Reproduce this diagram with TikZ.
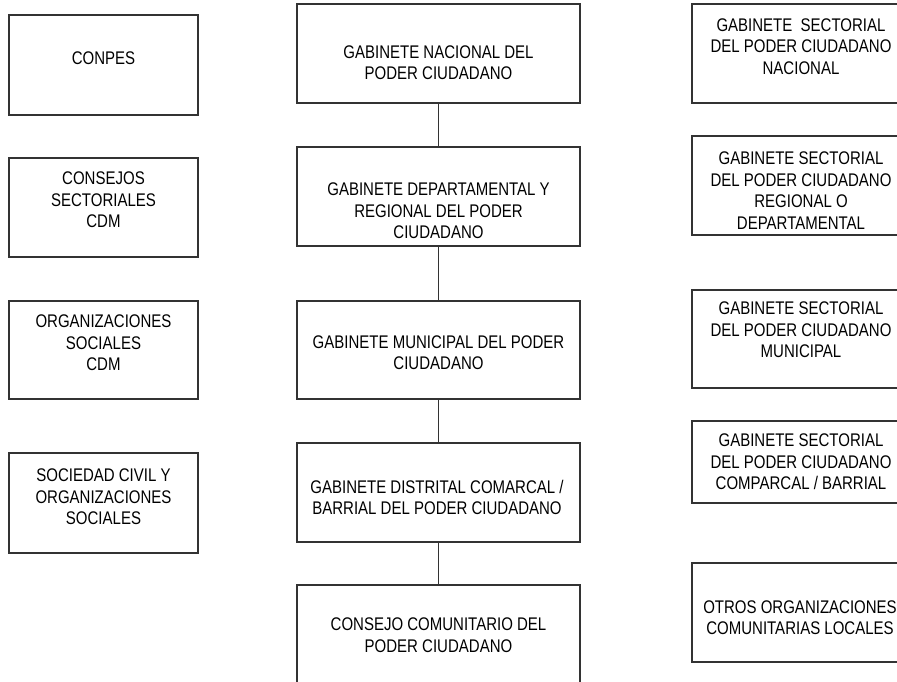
\documentclass[tikz,border=0pt]{standalone}
\usepackage{fontspec}
\setmainfont{Liberation Sans}[FakeStretch=0.82]
\begin{document}
\begin{tikzpicture}[x=1pt,y=-1pt,
  box/.style={draw=black!80,line width=1.15pt,rectangle,inner sep=0pt},
  lbl/.style={align=center,inner sep=0pt,font=\fontsize{18.3}{21.5}\selectfont,text=black},
  link/.style={draw=black!80,line width=1.15pt}]
\useasboundingbox (0,0) rectangle (897,681);
\clip (0,0) rectangle (897,681);
% left column (x 9..198)
\node[box,minimum width=189pt,minimum height=100pt] (l1) at (103.5,65) {};
\node[box,minimum width=189pt,minimum height=99pt] (l2) at (103.5,207.5) {};
\node[box,minimum width=189pt,minimum height=98pt] (l3) at (103.5,350) {};
\node[box,minimum width=189pt,minimum height=100pt] (l4) at (103.5,503) {};
\node[lbl] (l1t) at (103.5,58) {CONPES};
\node[lbl] (l2t) at (103.5,200) {CONSEJOS\\SECTORIALES\\CDM};
\node[lbl] (l3t) at (103.5,343) {ORGANIZACIONES\\SOCIALES\\CDM};
\node[lbl] (l4t) at (103.5,497) {SOCIEDAD CIVIL Y\\ORGANIZACIONES\\SOCIALES};
% center column (x 297..580)
\node[box,minimum width=283pt,minimum height=99pt] (c1) at (438.5,53.5) {};
\node[box,minimum width=283pt,minimum height=99pt] (c2) at (438.5,196.5) {};
\node[box,minimum width=283pt,minimum height=98pt] (c3) at (438.5,350) {};
\node[box,minimum width=283pt,minimum height=99pt] (c4) at (438.5,492.5) {};
\node[box,minimum width=283pt,minimum height=115pt] (c5) at (438.5,642.5) {};
\node[lbl] (c1t) at (438.5,62.5) {GABINETE NACIONAL DEL\\PODER CIUDADANO};
\node[lbl] (c2t) at (438.5,211) {GABINETE DEPARTAMENTAL Y\\REGIONAL DEL PODER\\CIUDADANO};
\node[lbl] (c3t) at (438.5,352.5) {GABINETE MUNICIPAL DEL PODER\\CIUDADANO};
\node[lbl] (c4t) at (437,497.5) {GABINETE DISTRITAL COMARCAL /\\BARRIAL DEL PODER CIUDADANO};
\node[lbl] (c5t) at (438.5,635) {CONSEJO COMUNITARIO DEL\\PODER CIUDADANO};
\draw[link] (c1.south) -- (c2.north);
\draw[link] (c2.south) -- (c3.north);
\draw[link] (c3.south) -- (c4.north);
\draw[link] (c4.south) -- (c5.north);
% right column (x 692..910, clipped)
\node[box,minimum width=218pt,minimum height=99pt] (r1) at (801,53.5) {};
\node[box,minimum width=218pt,minimum height=99pt] (r2) at (801,185.5) {};
\node[box,minimum width=218pt,minimum height=98pt] (r3) at (801,339) {};
\node[box,minimum width=218pt,minimum height=82pt] (r4) at (801,462) {};
\node[box,minimum width=218pt,minimum height=99pt] (r5) at (801,612.5) {};
\node[lbl] (r1t) at (801,46.5) {GABINETE\ \ SECTORIAL\\DEL PODER CIUDADANO\\NACIONAL};
\node[lbl] (r2t) at (801,190.5) {GABINETE SECTORIAL\\DEL PODER CIUDADANO\\REGIONAL O\\DEPARTAMENTAL};
\node[lbl] (r3t) at (801,330) {GABINETE SECTORIAL\\DEL PODER CIUDADANO\\MUNICIPAL};
\node[lbl] (r4t) at (801,462) {GABINETE SECTORIAL\\DEL PODER CIUDADANO\\COMPARCAL / BARRIAL};
\node[lbl] (r5t) at (800,617.5) {OTROS ORGANIZACIONES\\COMUNITARIAS LOCALES};
\end{tikzpicture}
\end{document}
